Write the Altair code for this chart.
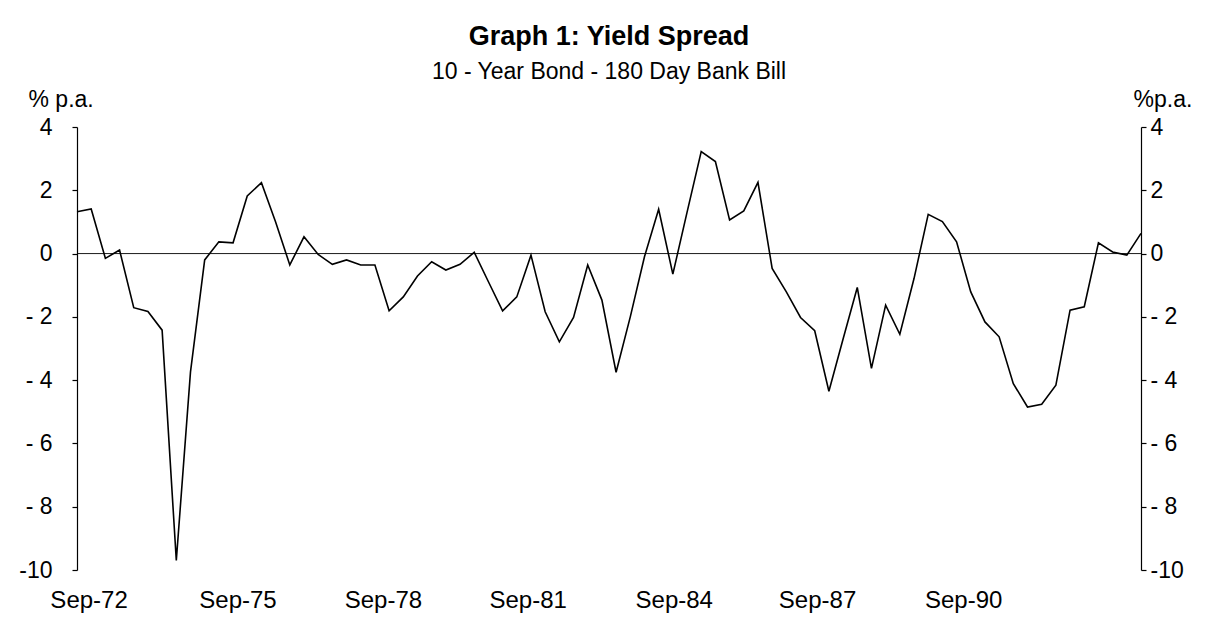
import altair as alt
import pandas as pd

# ---- data (one value per plotted point) ----
spread = [1.32, 1.41, -0.15, 0.11, -1.71, -1.83, -2.42, -9.70, -3.74, -0.20,
          0.37, 0.34, 1.82, 2.24, 1.00, -0.36, 0.53, -0.03, -0.34, -0.20,
          -0.36, -0.36, -1.81, -1.37, -0.71, -0.26, -0.52, -0.34, 0.04, -0.89,
          -1.81, -1.37, -0.05, -1.84, -2.79, -2.02, -0.36, -1.47, -3.75, -2.00,
          -0.10, 1.40, -0.65, 1.30, 3.22, 2.91, 1.06, 1.35, 2.25, -0.47,
          -1.21, -2.02, -2.44, -4.35, -2.70, -1.07, -3.63, -1.63, -2.55, -0.79,
          1.24, 1.01, 0.37, -1.21, -2.16, -2.63, -4.11, -4.85, -4.76, -4.16,
          -1.79, -1.68, 0.34, 0.05, -0.05, 0.64]
period = list(range(len(spread)))

x_tick_values = list(range(0, 75, 2))
x_labels = ["Sep-72", "Sep-75", "Sep-78", "Sep-81", "Sep-84", "Sep-87", "Sep-90"]
x_label_pos = [0.85, 11.35, 21.6, 31.8, 42.1, 52.2, 62.5]
y_ticks = [-10, -8, -6, -4, -2, 0, 2, 4]
zero_level = [0]

FONT = "Liberation Sans"
W, H = 1064, 443

df = pd.DataFrame({"period": period, "spread": spread})
lab_df = pd.DataFrame({"pos": x_label_pos, "label": x_labels})
zero_df = pd.DataFrame({"level": zero_level})

xscale = alt.Scale(domain=[0, 75], nice=False, zero=False)
yscale = alt.Scale(domain=[-10, 4], nice=False, zero=False)

left_expr = "datum.value <= -10 ? '-10' : (datum.value < 0 ? '- ' + abs(datum.value) : '' + datum.value)"
right_expr = "datum.value <= -10 ? '-10' : (datum.value < 0 ? '- ' + abs(datum.value) : '\u2007' + datum.value)"

line = alt.Chart(df).mark_line(color="black", strokeWidth=1.6).encode(
    x=alt.X("period:Q", scale=xscale,
            axis=alt.Axis(values=x_tick_values, labels=False, title=None,
                          tickSize=5, grid=False, domainWidth=1.2, tickWidth=1.2)),
    y=alt.Y("spread:Q", scale=yscale,
            axis=alt.Axis(orient="left", values=y_ticks, labelExpr=left_expr,
                          tickSize=5, labelPadding=20, labelFontSize=23,
                          labelAlign="right", labelBaseline="middle",
                          domainWidth=1.2, tickWidth=1.2, grid=False,
                          title="% p.a.", titleAngle=0, titleAlign="left",
                          titleBaseline="alphabetic", titleX=-49, titleY=-21,
                          titleFontSize=23, titleFontWeight="normal", titleFont=FONT)),
)

zero = alt.Chart(zero_df).mark_rule(color="black", strokeWidth=0.9).encode(
    y=alt.Y("level:Q", scale=yscale,
            axis=alt.Axis(orient="right", values=y_ticks, labelExpr=right_expr,
                          tickSize=5, labelPadding=4, labelFontSize=23,
                          labelAlign="left", labelBaseline="middle",
                          domainWidth=1.2, tickWidth=1.2, grid=False,
                          title="%p.a.", titleAngle=0, titleAlign="left",
                          titleBaseline="alphabetic", titleX=-8, titleY=-21,
                          titleFontSize=23, titleFontWeight="normal", titleFont=FONT)),
)

labels = alt.Chart(lab_df).mark_text(font=FONT, fontSize=24, baseline="alphabetic",
                                     align="center", color="black").encode(
    x=alt.X("pos:Q", scale=xscale, axis=None),
    y=alt.value(H + 38),
    text="label:N",
)

chart = alt.layer(line, zero, labels).resolve_axis(y="independent").properties(
    width=W, height=H,
    autosize=alt.AutoSizeParams(type="none"),
    padding={"left": 69, "top": 119, "right": 60, "bottom": 50},
    title=alt.TitleParams(
        text="Graph 1: Yield Spread",
        subtitle="10 - Year Bond - 180 Day Bank Bill",
        font=FONT, fontSize=27, fontWeight="bold", color="black",
        subtitleFont=FONT, subtitleFontSize=23, subtitleColor="black",
        subtitlePadding=10, anchor="middle", frame="group", offset=3,
    ),
).configure_view(stroke=None).configure_axis(
    labelFont=FONT, labelColor="black", domainColor="black", tickColor="black",
    titleColor="black",
)

chart.save("out.html", embed_options={"renderer": "svg", "actions": False})
